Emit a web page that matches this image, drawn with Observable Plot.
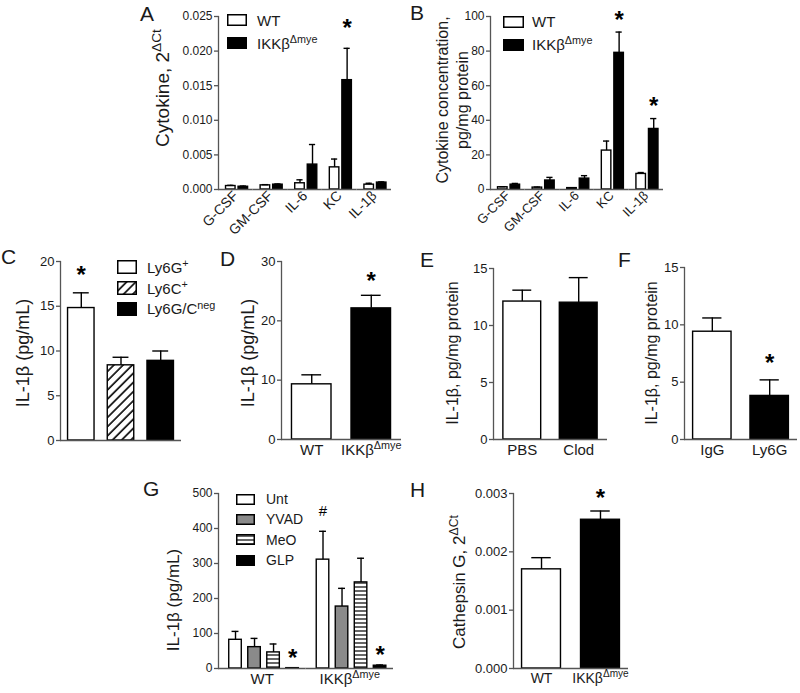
<!DOCTYPE html>
<html>
<head>
<meta charset="utf-8">
<script src="https://cdn.jsdelivr.net/npm/d3@7"></script>
<script src="https://cdn.jsdelivr.net/npm/@observablehq/plot@0.6"></script>
<style>
  html, body { margin: 0; padding: 0; background: #fff; }
  #fig { position: relative; width: 800px; height: 693px; overflow: hidden; background: #fff;
         font-family: "Liberation Sans", Arial, Helvetica, sans-serif; color: #1a1a1a; }
  .letter { position: absolute; font-size: 21px; line-height: 24px; }
  .ytitle { position: absolute; white-space: nowrap; text-align: center; transform: translate(-50%, -50%) rotate(-90deg); }
  .leg { position: absolute; }
  .leg .row { display: flex; align-items: center; }
  .leg svg { display: block; flex: none; }
  sup { font-size: 72%; vertical-align: 0; position: relative; top: -0.55em; line-height: 0; }
</style>
</head>
<body>
<div id="fig">
  <svg width="0" height="0" style="position:absolute">
    <defs>
      <pattern id="diag" patternUnits="userSpaceOnUse" width="6.5" height="6.5" patternTransform="rotate(45)">
        <rect width="6.5" height="6.5" fill="#fff"></rect>
        <line x1="1" y1="0" x2="1" y2="6.5" stroke="#000" stroke-width="1.6"></line>
      </pattern>
      <pattern id="horiz" patternUnits="userSpaceOnUse" width="4" height="4">
        <rect width="4" height="4" fill="#fff"></rect>
        <line x1="0" y1="2" x2="4" y2="2" stroke="#000" stroke-width="1.2"></line>
      </pattern>
    </defs>
  </svg>
</div>
<script>
// ------------------------------- data -------------------------------
const cytokines = ["G-CSF", "GM-CSF", "IL-6", "KC", "IL-1β"];
const genotypes = ["WT", "IKKβ^Δmye"];

// A: cytokine mRNA, 2^ΔCt
const aWT    = [0.0005, 0.0006, 0.0009, 0.0032, 0.0007];
const aWTerr = [0.0006, 0.0007, 0.0014, 0.0044, 0.0009];
const aKO    = [0.0004, 0.0007, 0.0036, 0.0158, 0.0010];
const aKOerr = [0.0005, 0.0008, 0.0065, 0.0204, 0.0011];
const aTicks = [0, 0.005, 0.010, 0.015, 0.020, 0.025];

// B: cytokine concentration, pg/mg protein
const bWT    = [1.3, 1.1, 0.8, 22.5, 9.0];
const bWTerr = [1.6, 1.4, 1.0, 28.0, 9.8];
const bKO    = [2.8, 5.2, 6.3, 79.0, 35.0];
const bKOerr = [3.5, 7.0, 8.0, 91.0, 41.0];
const bTicks = [0, 20, 40, 60, 80, 100];

// C: IL-1β by cell population
const cCells = ["Ly6G^+", "Ly6C^+", "Ly6G/C^neg"];
const cVal   = [14.8, 8.4, 8.9];
const cErr   = [16.5, 9.3, 10.0];
const cTicks = [0, 5, 10, 15, 20];

// D: IL-1β WT vs IKKβΔmye
const dVal   = [9.3, 22.1];
const dErr   = [10.9, 24.3];
const dTicks = [0, 10, 20, 30];

// E: PBS vs clodronate
const eGroups = ["PBS", "Clod"];
const eVal    = [12.1, 12.0];
const eErr    = [13.1, 14.2];
const eTicks  = [0, 5, 10, 15];

// F: IgG vs anti-Ly6G
const fGroups = ["IgG", "Ly6G"];
const fVal    = [9.4, 3.8];
const fErr    = [10.6, 5.2];
const fTicks  = [0, 5, 10, 15];

// G: IL-1β with inhibitors
const treatments = ["Unt", "YVAD", "MeO", "GLP"];
const gWT    = [82, 61, 46, 1];
const gWTerr = [106, 86, 70, 1.5];
const gKO    = [311, 177, 246, 8];
const gKOerr = [392, 229, 315, 10];
const gTicks = [0, 100, 200, 300, 400, 500];

// H: Cathepsin G, 2^ΔCt
const hVal   = [0.0017, 0.00255];
const hErr   = [0.0019, 0.0027];
const hTicks = [0, 0.001, 0.002, 0.003];

// significance markers: [group, series, symbol]
const aSig = [["KC", "IKKβ^Δmye", "*"]];
const bSig = [["KC", "IKKβ^Δmye", "*"], ["IL-1β", "IKKβ^Δmye", "*"]];
const cSig = [["Ly6G^+", "*"]];
const dSig = [["IKKβ^Δmye", "*"]];
const fSig = [["Ly6G", "*"]];
const gSigStar = [["WT", "GLP", "*"], ["IKKβ^Δmye", "GLP", "*"]];
const gSigHash = [["IKKβ^Δmye", "Unt", "#"]];
const hSig = [["IKKβ^Δmye", "*"]];

// ------------------------------- helpers -------------------------------
const AX = "#555", TXT = "#1a1a1a";
const FONT = "'Liberation Sans', Arial, Helvetica, sans-serif";
const fig = document.getElementById("fig");
const NS = "http://www.w3.org/2000/svg";

function grouped(groups, series, valsBySeries, errsBySeries) {
  const rows = [];
  groups.forEach((g, i) => series.forEach((s, j) => rows.push({group: g, series: s, value: valsBySeries[j][i], err: errsBySeries[j][i]})));
  return rows;
}
function simple(series, vals, errs) {
  return series.map((s, i) => ({series: s, value: vals[i], err: errs[i]}));
}
function sigRows(list, data, faceted) {
  return list.map(a => {
    const row = faceted ? data.find(d => d.group === a[0] && d.series === a[1]) : data.find(d => d.series === a[0]);
    return {...row, sym: a[a.length - 1]};
  });
}
function supify(root) {
  root.querySelectorAll("text").forEach(t => {
    const nodes = t.querySelector("tspan") ? [...t.querySelectorAll("tspan")] : [t];
    nodes.forEach(n => {
      const s = n.textContent, i = s.indexOf("^");
      if (i < 0) return;
      n.textContent = "";
      const a = document.createElementNS(NS, "tspan"); a.textContent = s.slice(0, i);
      const b = document.createElementNS(NS, "tspan"); b.textContent = s.slice(i + 1);
      b.setAttribute("dy", "-0.6em"); b.setAttribute("font-size", "72%");
      n.append(a, b);
    });
  });
}
function html(s) {
  const i = s.indexOf("^");
  return i < 0 ? s : s.slice(0, i) + "<sup>" + s.slice(i + 1) + "</sup>";
}

function barPanel(c) {
  const [x0, x1, yT, y0] = c.frame;
  const ml = 70, mr = 10, mt = 40, mb = 70;
  const faceted = !!c.groups;
  const span = (x1 - x0) / (faceted ? c.groups.length : 1);
  const n = c.series.length;
  const step = span / (n - c.pad[0] + 2 * c.pad[1]);
  const bw = step * (1 - c.pad[0]);
  const inset = bw * (1 - c.cap) / 2;
  const F = faceted ? {fx: "group"} : {};
  const marks = [
    Plot.barY(c.data, {...F, x: "series", y: "value", fill: "series", stroke: "#000", strokeWidth: 1.4}),
    Plot.ruleX(c.data, {...F, x: "series", y1: "value", y2: "err", stroke: "#000", strokeWidth: 1.4}),
    Plot.tickY(c.data, {...F, x: "series", y: "err", stroke: "#000", strokeWidth: 1.4, insetLeft: inset, insetRight: inset}),
    Plot.ruleY([0], {stroke: AX, strokeWidth: 1.3}),
    Plot.frame({anchor: "left", facetAnchor: "left", stroke: AX, strokeWidth: 1.3}),
    Plot.axisY({ticks: c.ticks, tickFormat: c.fmt, tickSize: 4, tickPadding: 2, fontSize: c.tickFont,
                stroke: AX, strokeWidth: 1.3, fill: TXT, label: null})
  ];
  (c.sigs || []).forEach(s => marks.push(Plot.text(s.rows, {...F, x: "series", y: "err", text: "sym",
      fontSize: s.font, fontWeight: s.bold ? "bold" : "normal", dy: s.dy, fill: "#000"})));
  if (faceted) marks.push(Plot.axisFx({anchor: "bottom", tickRotate: c.rotate || 0, tickSize: 0, tickPadding: c.xPad,
      fontSize: c.xFont, fill: TXT, label: null}));
  else if (c.xFont) marks.push(Plot.axisX({anchor: "bottom", tickSize: 0, tickPadding: c.xPad, fontSize: c.xFont, fill: TXT, label: null}));
  const xopts = {domain: c.series, paddingInner: c.pad[0], paddingOuter: c.pad[1], align: c.pad[2] ?? 0.5, round: false};
  if (faceted || !c.xFont) xopts.axis = null;
  const opts = {
    width: x1 - x0 + ml + mr, height: y0 - yT + mt + mb,
    marginLeft: ml, marginRight: mr, marginTop: mt, marginBottom: mb,
    style: {background: "transparent", overflow: "visible", fontFamily: FONT, color: TXT},
    x: xopts,
    y: {domain: c.domain},
    color: {domain: c.series, range: c.fills},
    marks
  };
  if (faceted) opts.fx = {domain: c.groups, padding: 0, round: false};
  const svg = Plot.plot(opts);
  supify(svg);
  svg.style.position = "absolute";
  svg.style.left = (x0 - ml) + "px";
  svg.style.top = (yT - mt) + "px";
  fig.appendChild(svg);
}

function letter(t, left, top) {
  const d = document.createElement("div"); d.className = "letter"; d.textContent = t;
  d.style.left = left + "px"; d.style.top = top + "px"; fig.appendChild(d);
}
function ytitle(lines, cx, cy, size, lh) {
  const d = document.createElement("div"); d.className = "ytitle";
  d.innerHTML = lines.map(html).join("<br>");
  d.style.left = cx + "px"; d.style.top = cy + "px"; d.style.fontSize = size + "px";
  d.style.lineHeight = (lh || size * 1.15) + "px";
  fig.appendChild(d);
}
function legend(labels, fills, o) {
  const d = document.createElement("div"); d.className = "leg";
  d.style.left = o.left + "px"; d.style.top = o.top + "px"; d.style.fontSize = o.font + "px";
  labels.forEach((lab, i) => {
    const r = document.createElement("div"); r.className = "row"; r.style.height = o.rowH + "px";
    r.innerHTML = `<svg width="${o.boxW}" height="${o.boxH}"><rect x="0.75" y="0.75" width="${o.boxW - 1.5}" height="${o.boxH - 1.5}" fill="${fills[i]}" stroke="#000" stroke-width="1.5"/></svg><span style="margin-left:${o.gap}px;white-space:nowrap">${html(lab)}</span>`;
    d.appendChild(r);
  });
  fig.appendChild(d);
}

// ------------------------------- panels -------------------------------
const genoFills = ["#fff", "#000"];

// A
const aData = grouped(cytokines, genotypes, [aWT, aKO], [aWTerr, aKOerr]);
barPanel({frame: [218, 391, 16, 189], groups: cytokines, series: genotypes, data: aData, fills: genoFills,
  domain: [0, 0.025], ticks: aTicks, fmt: d3.format(".3f"), tickFont: 12,
  pad: [0.24, 0.5, 0.6], cap: 0.65, rotate: -45, xPad: 4, xFont: 14,
  sigs: [{rows: sigRows(aSig, aData, true), font: 24, bold: true, dy: -20}]});

// B
const bData = grouped(cytokines, genotypes, [bWT, bKO], [bWTerr, bKOerr]);
barPanel({frame: [490, 663, 16, 189], groups: cytokines, series: genotypes, data: bData, fills: genoFills,
  domain: [0, 100], ticks: bTicks, fmt: d3.format("d"), tickFont: 12,
  pad: [0.24, 0.5, 0.6], cap: 0.65, rotate: -45, xPad: 4, xFont: 13,
  sigs: [{rows: sigRows(bSig, bData, true), font: 24, bold: true, dy: -12}]});

// C
const cFills = ["#fff", "url(#diag)", "#000"];
const cData = simple(cCells, cVal, cErr);
barPanel({frame: [60, 181, 261, 440], series: cCells, data: cData, fills: cFills,
  domain: [0, 20], ticks: cTicks, fmt: d3.format("d"), tickFont: 13,
  pad: [0.333, 0.19], cap: 0.6,
  sigs: [{rows: sigRows(cSig, cData, false), font: 24, bold: true, dy: -18}]});

// D
const dData = simple(genotypes, dVal, dErr);
barPanel({frame: [281, 401, 261, 439], series: genotypes, data: dData, fills: genoFills,
  domain: [0, 30], ticks: dTicks, fmt: d3.format("d"), tickFont: 13,
  pad: [0.336, 0.176], cap: 0.5, xPad: 5, xFont: 15,
  sigs: [{rows: sigRows(dSig, dData, false), font: 24, bold: true, dy: -14}]});

// E
const eData = simple(eGroups, eVal, eErr);
barPanel({frame: [493, 607, 268, 439], series: eGroups, data: eData, fills: genoFills,
  domain: [0, 15], ticks: eTicks, fmt: d3.format("d"), tickFont: 13,
  pad: [0.33, 0.175], cap: 0.5, xPad: 5, xFont: 15});

// F
const fData = simple(fGroups, fVal, fErr);
barPanel({frame: [684, 797, 267, 439], series: fGroups, data: fData, fills: genoFills,
  domain: [0, 15], ticks: fTicks, fmt: d3.format("d"), tickFont: 13,
  pad: [0.33, 0.15], cap: 0.5, xPad: 5, xFont: 15,
  sigs: [{rows: sigRows(fSig, fData, false), font: 24, bold: true, dy: -17}]});

// G
const gFills = ["#fff", "#8a8a8a", "url(#horiz)", "#000"];
const gData = grouped(genotypes, treatments, treatments.map((t, j) => [gWT[j], gKO[j]]), treatments.map((t, j) => [gWTerr[j], gKOerr[j]]));
barPanel({frame: [218, 393, 493, 668], groups: genotypes, series: treatments, data: gData, fills: gFills,
  domain: [0, 500], ticks: gTicks, fmt: d3.format("d"), tickFont: 12,
  pad: [0.34, 0.47, 0.6], cap: 0.55, rotate: 0, xPad: 5, xFont: 15,
  sigs: [{rows: sigRows(gSigStar, gData, true), font: 24, bold: true, dy: -10},
         {rows: sigRows(gSigHash, gData, true), font: 15, bold: false, dy: -20}]});

// H
const hData = simple(genotypes, hVal, hErr);
barPanel({frame: [513, 628, 493, 668], series: genotypes, data: hData, fills: genoFills,
  domain: [0, 0.003], ticks: hTicks, fmt: d3.format(".3f"), tickFont: 13,
  pad: [0.34, 0.145], cap: 0.5, xPad: 5, xFont: 14,
  sigs: [{rows: sigRows(hSig, hData, false), font: 24, bold: true, dy: -13}]});

// ------------------------------- text -------------------------------
letter("A", 140, 2); letter("B", 410, 1); letter("C", 1, 245); letter("D", 220, 247);
letter("E", 420, 248); letter("F", 618, 248); letter("G", 143, 477); letter("H", 410, 478);

ytitle(["Cytokine, 2^ΔCt"], 163, 88, 19);
ytitle(["Cytokine concentration,", "pg/mg protein"], 453, 100, 16, 20);
ytitle(["IL-1β (pg/mL)"], 23, 353, 18);
ytitle(["IL-1β (pg/mL)"], 248, 353, 18);
ytitle(["IL-1β, pg/mg protein"], 453, 353, 16);
ytitle(["IL-1β, pg/mg protein"], 652, 353, 16);
ytitle(["IL-1β (pg/mL)"], 174, 600, 17);
ytitle(["Cathepsin G, 2^ΔCt"], 460, 582, 17);

legend(genotypes, genoFills, {left: 227, top: 8.5, rowH: 23, boxW: 20, boxH: 12, font: 15, gap: 10});
legend(genotypes, genoFills, {left: 503, top: 10, rowH: 23, boxW: 21, boxH: 12, font: 15, gap: 8});
legend(cCells, cFills, {left: 117, top: 257, rowH: 20.8, boxW: 20, boxH: 14, font: 15, gap: 10});
legend(treatments, gFills, {left: 236, top: 489, rowH: 20.3, boxW: 19, boxH: 11, font: 14, gap: 11});
</script>
</body>
</html>
